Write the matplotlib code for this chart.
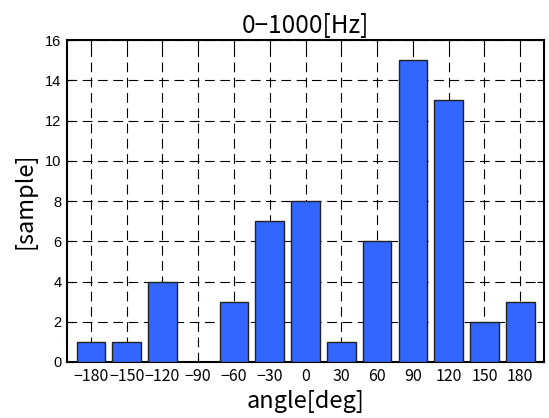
import matplotlib.pyplot as plt
import numpy as np

plt.rcParams['font.family'] = ['Noto Sans CJK JP', 'DejaVu Sans']
plt.rcParams['lines.scale_dashes'] = False

angles = [-180, -150, -120, -90, -60, -30, 0, 30, 60, 90, 120, 150, 180]
counts = [1, 1, 4, 0, 3, 7, 8, 1, 6, 15, 13, 2, 3]
tick_labels = ['-180', '-150', '-120', '-90', '-60', '-30', '0',
               '30', '60', '90', '120', '150', '180']

fig = plt.figure(figsize=(5.49, 4.18), dpi=100)
ax = fig.add_axes([0.122, 0.134, 0.869, 0.770])

ax.bar(angles, counts, width=24, color='#3366ff', edgecolor='#222222',
       linewidth=1.0, zorder=3)

ax.set_xlim(-200, 200)
ax.set_ylim(0, 16)
ax.set_xticks(angles)
ax.set_xticklabels([t.replace('-', '\u2212') for t in tick_labels],
                   fontsize=11.5)
ax.set_yticks(np.arange(0, 17, 2))
ax.set_yticklabels([str(v) for v in range(0, 17, 2)],
                   family='Liberation Sans', fontsize=10.5)

ax.grid(True, color='black', linestyle=(0, (7, 4)), linewidth=0.8, zorder=0)
ax.set_axisbelow(True)
ax.tick_params(direction='in', top=True, right=True, length=5, pad=4)
ax.tick_params(axis='x', pad=4)
for s in ax.spines.values():
    s.set_linewidth(1.5)

ax.set_title('0\u22121000[Hz]', fontsize=17.5, pad=5)
ax.set_xlabel('angle[deg]', fontsize=17, labelpad=4)
ax.set_ylabel('[sample]', fontsize=17, labelpad=6)

plt.savefig('out.png', dpi=100)
